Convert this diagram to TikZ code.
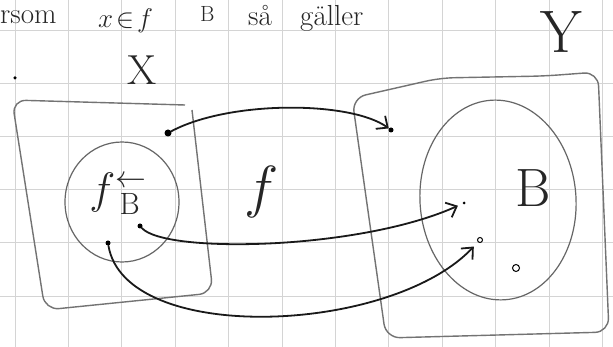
\RequirePackage{fix-cm}
\documentclass[tikz,border=0pt]{standalone}
\usepackage{fontspec}
\usetikzlibrary{arrows.meta, shapes.geometric}

\tikzset{
  gridline/.style={draw=black!17, line width=0.9pt},
  setline/.style={draw=black!55, line width=1.4pt, rounded corners=14pt},
  subset/.style={ellipse, draw=black!60, line width=1.2pt, inner sep=0pt},
  hand/.style={inner sep=0pt, text=black!85},
  elem/.style={circle, fill=black, inner sep=0pt, minimum size=5pt},
  openelem/.style={circle, draw=black, line width=1pt, inner sep=0pt, minimum size=6pt},
  maparrow/.style={-{Straight Barb[length=9pt,width=16pt]}, line width=1.8pt, draw=black!90, line cap=round}
}

\begin{document}
\begin{tikzpicture}[x=1pt, y=-1pt]

\fill[white] (0,0) rectangle (613,347);
\useasboundingbox (0,0) rectangle (613,347);

% -------- squared paper --------
\foreach \i in {0,...,11}
  \draw[gridline] ({15+53.4*\i},0) -- ({15+53.4*\i},347);
\foreach \j in {0,...,5}
  \draw[gridline] (0,{30+53.2*\j}) -- (613,{30+53.2*\j});

% -------- line of text at the top --------
\node[hand, anchor=base west, font=\fontsize{29}{34}\selectfont] (w1) at (0,24) {rsom};
\node[hand, anchor=base west, font=\fontsize{27}{32}\selectfont] (w2) at (98,28) {$x\!\in\! f$};
\node[hand, anchor=base west, font=\fontsize{22}{26}\selectfont] (w3) at (200,22) {B};
\node[hand, anchor=base west, font=\fontsize{29}{34}\selectfont] (w4) at (248,26) {så};
\node[hand, anchor=base west, font=\fontsize{29}{34}\selectfont] (w5) at (300,26) {gäller};

% -------- the sets --------
\draw[setline] (192,110) -- (213,293) -- (45,310) -- (12,100) -- (185,105);
\draw[setline] (352,98) -- (386,338) -- (609,332) -- (598,72) -- (545,76) -- (440,78) -- cycle;

\node[subset, minimum width=114pt, minimum height=120pt] (pre) at (122,202) {};
\node[subset, minimum width=156pt, minimum height=200pt, rotate=4] (B) at (498,200) {};

% -------- labels --------
\node[hand, font=\fontsize{42}{48}\selectfont] (lX) at (142,70) {X};
\node[hand, font=\fontsize{60}{66}\selectfont] (lY) at (561,32) {Y};
\node[hand, font=\fontsize{58}{64}\selectfont] (lf) at (262,192) {$f$};
\node[hand, font=\fontsize{44}{50}\selectfont] (lpre) at (118,194) {$f^{\leftarrow}_{\hspace{9pt}\mathrm{B}}$};
\node[hand, font=\fontsize{54}{60}\selectfont] (lB) at (533,188) {B};

% -------- elements --------
\node[elem, minimum size=3.5pt] (d0) at (15,78) {};
\node[elem, minimum size=7pt] (a1) at (168,133) {};
\node[elem] (a2) at (140,226) {};
\node[elem] (a3) at (108,243) {};
\node[elem, minimum size=5pt] (b1) at (391,130) {};
\node[elem, minimum size=3pt] (b2) at (464,203) {};
\node[openelem, minimum size=5pt] (b3) at (480,240) {};
\node[openelem, minimum size=7pt] (c1) at (516,268) {};

% -------- f maps them over --------
\draw[maparrow] (a1) .. controls +(62,-33) and +(-40,-29) .. (b1);
\draw[maparrow, shorten >=5pt] (a2) .. controls +(25,28) and +(-104,47) .. (b2);
\draw[maparrow, shorten >=6pt] (a3) .. controls +(17,102) and +(-90,95) .. (b3);

\end{tikzpicture}
\end{document}
